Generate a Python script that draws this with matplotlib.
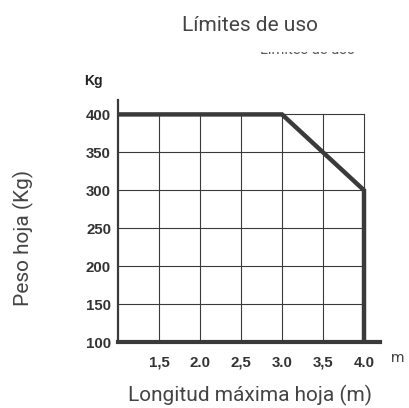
import matplotlib.pyplot as plt

# data
x_vals = [1.0, 3.0, 3.5, 4.0, 4.0]
y_vals = [400, 400, 350, 300, 100]
x_ticks = [1.5, 2.0, 2.5, 3.0, 3.5, 4.0]
x_labels = ['1,5', '2.0', '2,5', '3.0', '3,5', '4.0']
y_ticks = [100, 150, 200, 250, 300, 350, 400]

W, H = 410, 408
dark = '#3a3a3a'
gray = '#444444'

fig = plt.figure(figsize=(W / 100, H / 100), dpi=100)

# inner chart, pixel box 118..380 x 100..342
ax = fig.add_axes([118 / W, (H - 342) / H, 262 / W, 242 / H])
ax.set_xlim(1.0, 4.195)
ax.set_ylim(100, 419)

for xv in x_ticks:
    ax.plot([xv, xv], [100, 400], color=dark, lw=0.8, zorder=1)
for yv in y_ticks[1:]:
    ax.plot([1.0, 4.0], [yv, yv], color=dark, lw=0.8, zorder=1)

ax.plot(x_vals, y_vals, color=dark, lw=3.2, solid_joinstyle='miter', zorder=3)

for s in ['top', 'right']:
    ax.spines[s].set_visible(False)
ax.spines['left'].set_linewidth(1.6)
ax.spines['left'].set_color(dark)
ax.spines['bottom'].set_linewidth(3.0)
ax.spines['bottom'].set_color(dark)

ax.set_xticks(x_ticks)
ax.set_xticklabels(x_labels)
ax.set_yticks(y_ticks)
ax.tick_params(length=0, pad=5, labelcolor='#333333')
ax.tick_params(axis='x', pad=10)
for lab in ax.get_xticklabels() + ax.get_yticklabels():
    lab.set_fontfamily('Liberation Sans')
    lab.set_fontweight('bold')
    lab.set_fontsize(10.8)

fig.text(93 / W, 1 - 81 / H, 'Kg', ha='center', va='center',
         family='Liberation Sans', weight='bold', fontsize=10, color='#222222')
fig.text(398 / W, 1 - 358 / H, 'm', ha='center', va='center',
         family='Roboto', fontsize=11, color=gray)

# outer labels
fig.text(250 / W, 1 - 31 / H, 'Límites de uso', ha='center', va='baseline',
         family='Roboto', fontsize=15, color=gray)
fig.text(250 / W, 1 - 395 / H, 'Longitud máxima hoja (m)', ha='center', va='center',
         family='Roboto', fontsize=15, color=gray)
fig.text(23 / W, 1 - 238 / H, 'Peso hoja (Kg)', ha='center', va='center',
         rotation=90, family='Roboto', fontsize=15, color=gray)

# cut-off caption inside the picture, only its bottom edge shows
ax2 = fig.add_axes([245 / W, (H - 55) / H, 125 / W, 3 / H])
ax2.axis('off')
cap = ax2.text(0.5, 0.2, 'Límites de uso', ha='center', va='baseline',
               family='Roboto', fontsize=10.5, color='#555555',
               transform=ax2.transAxes)
cap.set_clip_box(ax2.bbox)
cap.set_clip_on(True)

fig.savefig('out.png', dpi=100)
